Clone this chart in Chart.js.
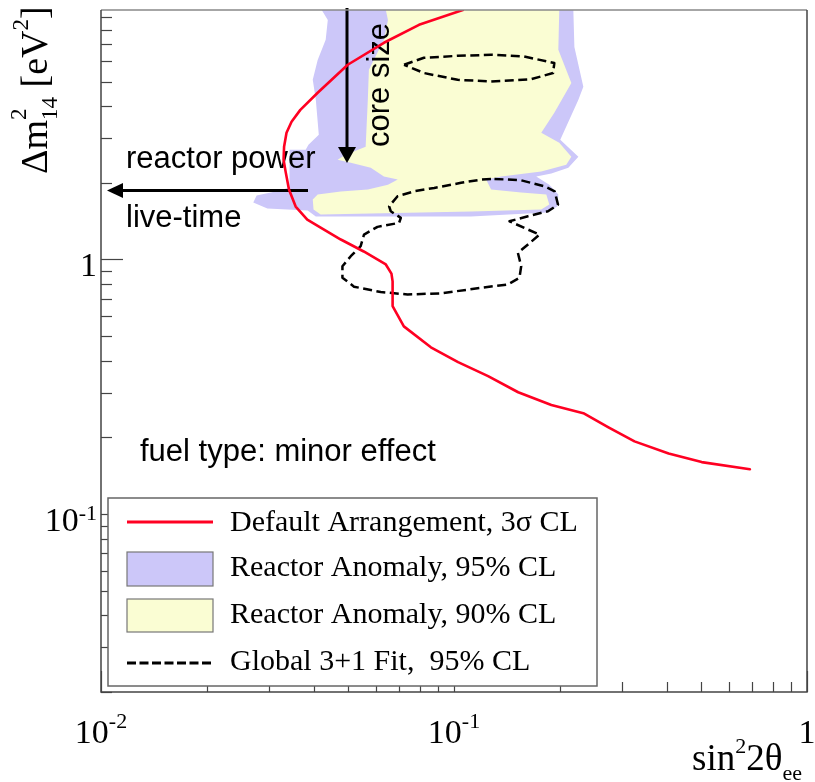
<!DOCTYPE html>
<html><head><meta charset="utf-8">
<script src="https://cdn.jsdelivr.net/npm/chart.js@4.4.0/dist/chart.umd.min.js"></script>
<style>html,body{margin:0;padding:0;background:#fff;}canvas{display:block;}</style>
</head><body>
<canvas id="c" width="815" height="782"></canvas>
<script>
// ---- data (sin^2 2theta, delta m^2 [eV^2]) ----
const redCurve = [[0.1059,9.55],[0.0796,8.35],[0.0633,7.10],[0.0500,5.82],[0.0411,4.52],[0.0367,3.87],[0.03466,3.476],[0.03354,3.148],[0.03301,2.774],[0.03290,2.466],[0.03334,2.214],[0.03408,1.882],[0.0356,1.614],[0.0384,1.435],[0.0419,1.335],[0.0478,1.198],[0.0555,1.075],[0.0641,0.956],[0.0665,0.880],[0.0670,0.820],[0.0670,0.656],[0.0721,0.546],[0.0860,0.452],[0.1027,0.395],[0.1249,0.348],[0.1520,0.301],[0.1887,0.268],[0.2325,0.249],[0.2739,0.219],[0.3246,0.193],[0.4055,0.173],[0.503,0.160],[0.689,0.150]];
const globalFitUpper = [[0.0722,5.82],[0.0822,6.20],[0.1024,6.31],[0.1274,6.37],[0.158,6.27],[0.1924,5.91],[0.1908,5.40],[0.1655,5.11],[0.1274,5.00],[0.1024,5.08],[0.0822,5.40],[0.0722,5.82]];
const globalFitLower = [[0.1302,2.073],[0.155,2.046],[0.1805,1.939],[0.1928,1.853],[0.1971,1.643],[0.1846,1.547],[0.162,1.479],[0.1436,1.413],[0.162,1.311],[0.1747,1.253],[0.162,1.145],[0.1517,1.062],[0.155,0.941],[0.1533,0.848],[0.1421,0.798],[0.1193,0.774],[0.0918,0.736],[0.0739,0.729],[0.062,0.745],[0.0521,0.782],[0.0483,0.848],[0.0483,0.941],[0.051,1.03],[0.0544,1.128],[0.0556,1.253],[0.0607,1.343],[0.0699,1.393],[0.0707,1.457],[0.0662,1.547],[0.0655,1.618],[0.0692,1.771],[0.0771,1.853],[0.0879,1.91],[0.1047,2.0],[0.1193,2.06],[0.1302,2.073]];
const anomaly90 = [[0.0641,9.55],[0.1987,9.55],[0.1975,6.66],[0.215,4.94],[0.1924,3.77],[0.1767,3.15],[0.1987,2.876],[0.2150,2.534],[0.2080,2.358],[0.1767,2.214],[0.136,2.116],[0.1233,2.06],[0.1274,1.882],[0.155,1.831],[0.1826,1.798],[0.1862,1.643],[0.1767,1.571],[0.1117,1.543],[0.0419,1.502],[0.040,1.571],[0.0398,1.72],[0.0411,1.798],[0.0478,1.848],[0.057,1.882],[0.065,1.968],[0.0693,2.06],[0.0633,2.116],[0.0581,2.295],[0.051,2.401],[0.0468,2.466],[0.0493,2.581],[0.0562,2.774],[0.0570,4.24],[0.0574,5.56],[0.0633,7.29],[0.065,8.73],[0.0641,9.55]];
const anomaly95 = [[0.0422,9.55],[0.2178,9.55],[0.2193,6.84],[0.2325,4.77],[0.2251,4.24],[0.200,2.955],[0.2251,2.534],[0.2108,2.295],[0.1887,2.175],[0.171,2.116],[0.1862,1.968],[0.1975,1.798],[0.1962,1.614],[0.1826,1.529],[0.1117,1.475],[0.0406,1.475],[0.0385,1.556],[0.0296,1.585],[0.027,1.673],[0.0276,1.782],[0.0312,1.848],[0.0342,1.916],[0.0342,2.70],[0.038,2.70],[0.0387,2.825],[0.0414,3.09],[0.0406,4.24],[0.0398,5.08],[0.0411,6.08],[0.0433,7.29],[0.0439,8.73],[0.0422,9.55]];
const xMajorTicks = [0.01, 0.1, 1];
const xTickLabels = [['10','-2'],['10','-1'],['1','']];
const yMajorTicks = [0.1, 1];
const yTickLabels = [['10','-1'],['1','']];
const legendLabels = ['Default Arrangement, 3\u03c3 CL','Reactor Anomaly, 95% CL','Reactor Anomaly, 90% CL','Global 3+1 Fit,  95% CL'];
const annotations = ['reactor power','live-time','core size','fuel type: minor effect'];

const RED = 'rgb(255,0,34)';
const PURPLE = 'rgb(204,199,249)';
const YELLOW = 'rgb(250,253,211)';
const SERIF = '"Liberation Serif","Times New Roman",serif';
const SANS = '"Liberation Sans",Arial,sans-serif';
const pts = a => a.map(p => ({x:p[0], y:p[1]}));

function drawRich(ctx, x, y, runs) {
  let cx = x;
  for (const r of runs) {
    ctx.font = r.size + 'px ' + (r.fam || SERIF);
    ctx.fillText(r.t, cx, y + (r.dy || 0));
    if (!r.stack) cx += ctx.measureText(r.t).width;
  }
  return cx - x;
}
function richWidth(ctx, runs) {
  let w = 0;
  for (const r of runs) { ctx.font = r.size + 'px ' + (r.fam || SERIF); if (!r.stack) w += ctx.measureText(r.t).width; }
  return w;
}
function minorTicks(min, max) {
  const out = [];
  for (let d = Math.floor(Math.log10(min)); d <= Math.ceil(Math.log10(max)); d++) {
    for (let k = 1; k <= 9; k++) { const v = k * Math.pow(10, d); if (v >= min * 0.999 && v <= max * 1.001) out.push({v, major: k === 1}); }
  }
  return out;
}

const decor = {
  id: 'decor',
  afterDatasetDraw(chart, args) {
    if (chart.data.datasets[args.index].tag !== 'a90') return;
    const ctx = chart.ctx;
    ctx.save();
    ctx.fillStyle = '#000'; ctx.strokeStyle = '#000';
    ctx.font = '31px ' + SANS; ctx.textBaseline = 'alphabetic'; ctx.textAlign = 'left';
    ctx.fillText(annotations[0], 126, 168);
    ctx.fillText(annotations[1], 126, 227);
    ctx.fillText(annotations[3], 140, 461);
    ctx.save(); ctx.translate(389, 147); ctx.rotate(-Math.PI / 2); ctx.fillText(annotations[2], 0, 0); ctx.restore();
    // arrows
    ctx.lineWidth = 3;
    ctx.beginPath(); ctx.moveTo(347, 8); ctx.lineTo(347, 150); ctx.stroke();
    ctx.beginPath(); ctx.moveTo(338, 147); ctx.lineTo(356, 147); ctx.lineTo(347, 163); ctx.closePath(); ctx.fill();
    ctx.beginPath(); ctx.moveTo(308, 190.5); ctx.lineTo(120, 190.5); ctx.stroke();
    ctx.beginPath(); ctx.moveTo(123, 183); ctx.lineTo(123, 198); ctx.lineTo(107, 190.5); ctx.closePath(); ctx.fill();
    ctx.restore();
  },
  afterDraw(chart) {
    const ctx = chart.ctx, a = chart.chartArea, xs = chart.scales.x, ys = chart.scales.y;
    ctx.save();
    // frame
    ctx.lineWidth = 1.5;
    ctx.strokeStyle = '#888';
    ctx.beginPath(); ctx.moveTo(a.left, a.top); ctx.lineTo(a.right, a.top); ctx.stroke();
    ctx.strokeStyle = '#444';
    ctx.beginPath(); ctx.moveTo(a.right, a.top); ctx.lineTo(a.right, a.bottom); ctx.lineTo(a.left, a.bottom); ctx.lineTo(a.left, a.top); ctx.stroke();
    // ticks (inside)
    ctx.strokeStyle = '#444'; ctx.lineWidth = 1.2;
    for (const t of minorTicks(xs.min, xs.max)) {
      const px = Math.round(xs.getPixelForValue(t.v)) + 0.5, L = t.major ? 21 : 10;
      ctx.beginPath(); ctx.moveTo(px, a.bottom); ctx.lineTo(px, a.bottom - L); ctx.stroke();
    }
    for (const t of minorTicks(ys.min, ys.max)) {
      const py = Math.round(ys.getPixelForValue(t.v)) + 0.5, L = t.major ? 22 : 11;
      ctx.beginPath(); ctx.moveTo(a.left, py); ctx.lineTo(a.left + L, py); ctx.stroke();
    }
    // tick labels
    ctx.fillStyle = '#000'; ctx.textBaseline = 'alphabetic'; ctx.textAlign = 'left';
    xMajorTicks.forEach((v, i) => {
      const runs = [{t: xTickLabels[i][0], size: 34}, {t: xTickLabels[i][1], size: 22, dy: -15}];
      const w = richWidth(ctx, runs);
      drawRich(ctx, xs.getPixelForValue(v) - w / 2, 743, runs);
    });
    yMajorTicks.forEach((v, i) => {
      const runs = [{t: yTickLabels[i][0], size: 34}, {t: yTickLabels[i][1], size: 22, dy: -11}];
      const w = richWidth(ctx, runs);
      drawRich(ctx, 97 - w, ys.getPixelForValue(v) + 17, runs);
    });
    // axis titles
    drawRich(ctx, 692, 770, [{t:'sin', size:37}, {t:'2', size:22, dy:-17}, {t:'2\u03b8', size:37}, {t:'ee', size:22, dy:10}]);
    ctx.save(); ctx.translate(47, 174); ctx.rotate(-Math.PI / 2);
    drawRich(ctx, 0, 0, [{t:'\u0394m', size:38}, {t:'2', size:23, dy:-21, stack:true}, {t:'14', size:23, dy:10}, {t:' [eV', size:38}, {t:'2', size:23, dy:-19}, {t:']', size:38}]);
    ctx.restore();
    // legend
    ctx.fillStyle = '#fff'; ctx.fillRect(108, 498, 489, 188);
    ctx.strokeStyle = '#666'; ctx.lineWidth = 1.5; ctx.strokeRect(108, 498, 489, 188);
    ctx.lineWidth = 3; ctx.strokeStyle = RED;
    ctx.beginPath(); ctx.moveTo(127, 522); ctx.lineTo(213, 522); ctx.stroke();
    ctx.lineWidth = 1.2; ctx.strokeStyle = '#777';
    ctx.fillStyle = PURPLE; ctx.fillRect(127, 552, 86, 34); ctx.strokeRect(127, 552, 86, 34);
    ctx.fillStyle = YELLOW; ctx.fillRect(127, 599, 86, 33); ctx.strokeRect(127, 599, 86, 33);
    ctx.lineWidth = 3; ctx.strokeStyle = '#000'; ctx.setLineDash([9, 3.5]);
    ctx.beginPath(); ctx.moveTo(127, 663); ctx.lineTo(213, 663); ctx.stroke();
    ctx.setLineDash([]);
    ctx.fillStyle = '#000'; ctx.font = '30px ' + SERIF;
    [531, 576, 623, 670].forEach((y, i) => ctx.fillText(legendLabels[i], 230, y));
    ctx.restore();
  }
};

new Chart(document.getElementById('c').getContext('2d'), {
  type: 'scatter',
  data: { datasets: [
    {label: legendLabels[0], data: pts(redCurve), showLine: true, borderColor: RED, borderWidth: 2.6, borderJoinStyle: 'round', borderCapStyle: 'round', pointRadius: 0, fill: false, order: 0},
    {label: legendLabels[3], data: pts(globalFitUpper), showLine: true, borderColor: '#000', borderWidth: 2.5, borderDash: [9, 4.5], borderJoinStyle: 'round', pointRadius: 0, fill: false, order: 1},
    {label: legendLabels[3], data: pts(globalFitLower), showLine: true, borderColor: '#000', borderWidth: 2.5, borderDash: [9, 4.5], borderJoinStyle: 'round', pointRadius: 0, fill: false, order: 2},
    {tag: 'a90', label: legendLabels[2], data: pts(anomaly90), showLine: true, borderColor: 'rgba(0,0,0,0)', borderWidth: 1, backgroundColor: YELLOW, pointRadius: 0, fill: 'shape', order: 3},
    {label: legendLabels[1], data: pts(anomaly95), showLine: true, borderColor: 'rgba(0,0,0,0)', borderWidth: 1, backgroundColor: PURPLE, pointRadius: 0, fill: 'shape', order: 4}
  ]},
  options: {
    responsive: false, animation: false, events: [],
    layout: {padding: {left: 101, right: 8, top: 10, bottom: 90}},
    scales: {
      x: {type: 'logarithmic', min: 0.01, max: 1, display: false},
      y: {type: 'logarithmic', min: 0.02, max: 9.55, display: false}
    },
    plugins: {legend: {display: false}, tooltip: {enabled: false}}
  },
  plugins: [decor]
});
</script>
</body></html>
